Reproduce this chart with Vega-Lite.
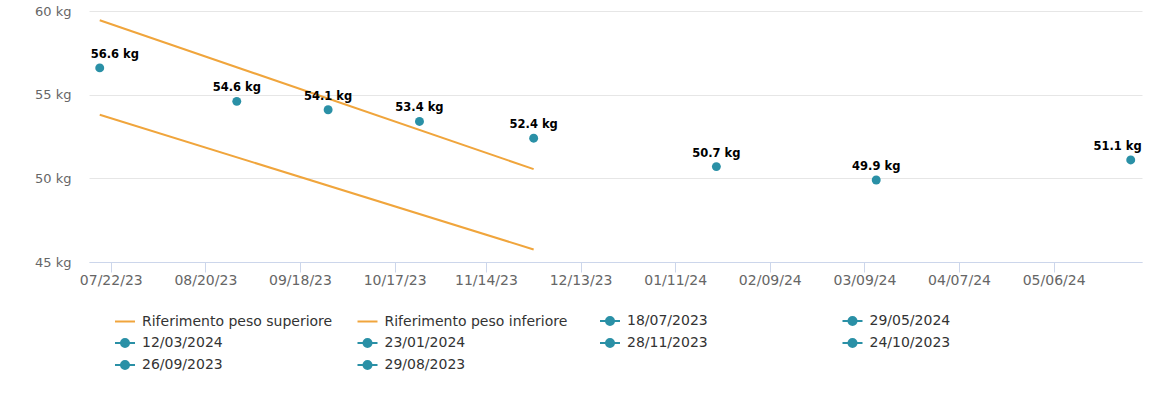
{
  "$schema": "https://vega.github.io/schema/vega-lite/v6.json",
  "width": 1053,
  "height": 251,
  "autosize": {"type": "none"},
  "padding": {"left": 89, "top": 11, "right": 22, "bottom": 132},
  "background": "white",
  "config": {
    "font": "DejaVu Sans",
    "view": {"stroke": null},
    "axis": {"labelFont": "DejaVu Sans", "labelFontSize": 13, "labelColor": "#666666", "title": null}
  },
  "datasets": {
    "riferimenti": [
      {"serie": "Riferimento peso superiore", "data": "2023-07-18", "peso": 59.45},
      {"serie": "Riferimento peso superiore", "data": "2023-11-28", "peso": 50.55},
      {"serie": "Riferimento peso inferiore", "data": "2023-07-18", "peso": 53.8},
      {"serie": "Riferimento peso inferiore", "data": "2023-11-28", "peso": 45.75}
    ],
    "misure": [
      {"serie": "18/07/2023", "data": "2023-07-18", "peso": 56.6, "etichetta": "56.6 kg"},
      {"serie": "29/08/2023", "data": "2023-08-29", "peso": 54.6, "etichetta": "54.6 kg"},
      {"serie": "26/09/2023", "data": "2023-09-26", "peso": 54.1, "etichetta": "54.1 kg"},
      {"serie": "24/10/2023", "data": "2023-10-24", "peso": 53.4, "etichetta": "53.4 kg"},
      {"serie": "28/11/2023", "data": "2023-11-28", "peso": 52.4, "etichetta": "52.4 kg"},
      {"serie": "23/01/2024", "data": "2024-01-23", "peso": 50.7, "etichetta": "50.7 kg"},
      {"serie": "12/03/2024", "data": "2024-03-12", "peso": 49.9, "etichetta": "49.9 kg"},
      {"serie": "29/05/2024", "data": "2024-05-29", "peso": 51.1, "etichetta": "51.1 kg"}
    ]
  },
  "encoding": {
    "x": {
      "field": "data",
      "type": "temporal",
      "scale": {
        "type": "utc",
        "domain": [
          {"year": 2023, "month": 7, "date": 14, "hours": 17, "utc": true},
          {"year": 2024, "month": 6, "date": 1, "hours": 11, "utc": true}
        ]
      },
      "axis": {
        "values": [
          {"year": 2023, "month": 7, "date": 21, "hours": 9, "utc": true},
          {"year": 2023, "month": 8, "date": 19, "hours": 9, "utc": true},
          {"year": 2023, "month": 9, "date": 17, "hours": 9, "utc": true},
          {"year": 2023, "month": 10, "date": 16, "hours": 9, "utc": true},
          {"year": 2023, "month": 11, "date": 13, "hours": 9, "utc": true},
          {"year": 2023, "month": 12, "date": 12, "hours": 9, "utc": true},
          {"year": 2024, "month": 1, "date": 10, "hours": 9, "utc": true},
          {"year": 2024, "month": 2, "date": 8, "hours": 9, "utc": true},
          {"year": 2024, "month": 3, "date": 8, "hours": 9, "utc": true},
          {"year": 2024, "month": 4, "date": 6, "hours": 9, "utc": true},
          {"year": 2024, "month": 5, "date": 5, "hours": 9, "utc": true}
        ],
        "labelExpr": "utcFormat(datum.value + 54000000, '%m/%d/%y')",
        "labelFontSize": 14,
        "grid": false,
        "domainColor": "#ccd6eb",
        "tickColor": "#ccd6eb",
        "tickSize": 10,
        "labelPadding": 1,
        "labelFlush": false,
        "labelOverlap": false
      }
    },
    "y": {
      "field": "peso",
      "type": "quantitative",
      "scale": {"domain": [45, 60], "nice": false, "zero": false},
      "axis": {
        "values": [45, 50, 55, 60],
        "labelExpr": "datum.value + ' kg'",
        "domain": false,
        "ticks": false,
        "labelPadding": 18,
        "gridColor": "#e6e6e6",
        "labelFlush": false
      }
    },
    "color": {
      "field": "serie",
      "type": "nominal",
      "scale": {
        "domain": ["Riferimento peso superiore", "Riferimento peso inferiore", "18/07/2023", "29/05/2024", "12/03/2024", "23/01/2024", "28/11/2023", "24/10/2023", "26/09/2023", "29/08/2023"],
        "range": ["#f0a53c", "#f0a53c", "#2a90a6", "#2a90a6", "#2a90a6", "#2a90a6", "#2a90a6", "#2a90a6", "#2a90a6", "#2a90a6"]
      },
      "legend": {
        "title": null,
        "orient": "none",
        "legendX": 25,
        "legendY": 299,
        "direction": "horizontal",
        "columns": 4,
        "gridAlign": "all",
        "columnPadding": 20.5,
        "rowPadding": 3,
        "padding": 0,
        "labelFont": "DejaVu Sans",
        "labelFontSize": 14,
        "labelColor": "#333333",
        "labelLimit": 400,
        "labelOffset": 6,
        "symbolSize": 400,
        "symbolStrokeWidth": 2,
        "encode": {
          "symbols": {
            "update": {
              "shape": [
                {"test": "indexof(datum.label, 'Riferimento') === 0", "value": "M-1,0L1,0"},
                {"value": "M-1,0L1,0M-0.4,0A0.4,0.4,0,1,1,0.4,0A0.4,0.4,0,1,1,-0.4,0Z"}
              ],
              "fill": {"scale": "color", "field": "value"},
              "stroke": {"scale": "color", "field": "value"},
              "strokeWidth": {"value": 2},
              "opacity": {"value": 1},
              "fillOpacity": {"value": 1},
              "strokeOpacity": {"value": 1}
            }
          }
        }
      }
    }
  },
  "layer": [
    {
      "data": {"name": "riferimenti"},
      "mark": {"type": "line", "strokeWidth": 2, "clip": false}
    },
    {
      "data": {"name": "misure"},
      "mark": {"type": "point", "filled": true, "size": 80, "opacity": 1}
    },
    {
      "data": {"name": "misure"},
      "transform": [{"filter": "datum.serie !== '18/07/2023' && datum.serie !== '29/05/2024'"}],
      "mark": {"type": "text", "dy": -10, "baseline": "alphabetic", "align": "center", "fontSize": 11.5, "fontWeight": "bold", "font": "DejaVu Sans"},
      "encoding": {
        "text": {"field": "etichetta", "type": "nominal"},
        "color": {"value": "#000000"}
      }
    },
    {
      "data": {"name": "misure"},
      "transform": [{"filter": "datum.serie === '18/07/2023'"}],
      "mark": {"type": "text", "dy": -10, "dx": -9, "baseline": "alphabetic", "align": "left", "fontSize": 11.5, "fontWeight": "bold", "font": "DejaVu Sans"},
      "encoding": {
        "text": {"field": "etichetta", "type": "nominal"},
        "color": {"value": "#000000"}
      }
    },
    {
      "data": {"name": "misure"},
      "transform": [{"filter": "datum.serie === '29/05/2024'"}],
      "mark": {"type": "text", "dy": -10, "dx": 11, "baseline": "alphabetic", "align": "right", "fontSize": 11.5, "fontWeight": "bold", "font": "DejaVu Sans"},
      "encoding": {
        "text": {"field": "etichetta", "type": "nominal"},
        "color": {"value": "#000000"}
      }
    }
  ]
}
